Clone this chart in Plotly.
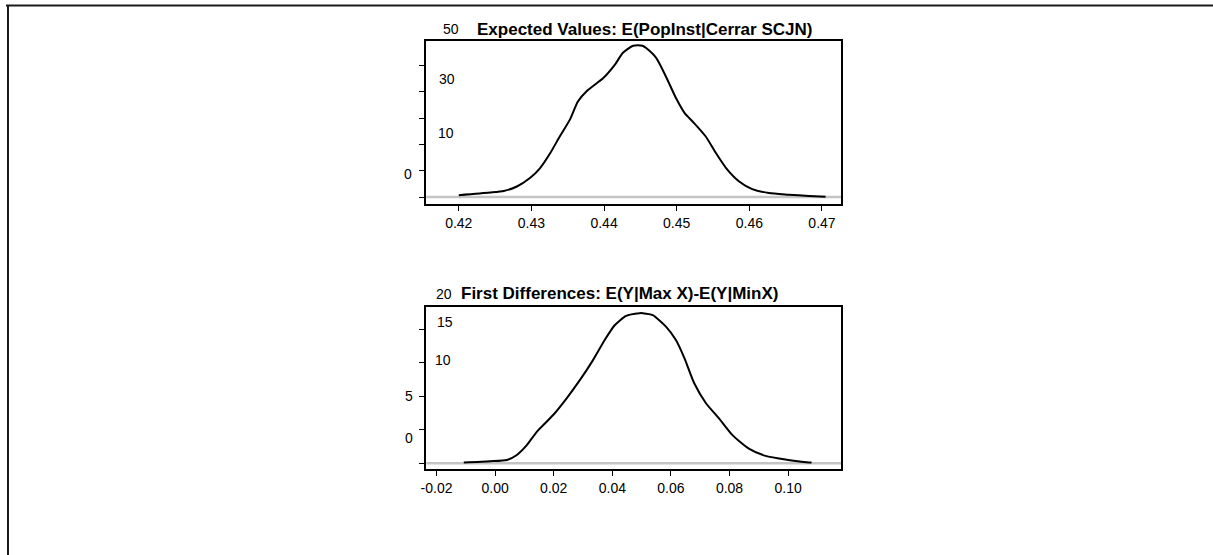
import plotly.graph_objects as go

# Density of simulated expected values
ev_x = [0.4200, 0.4243, 0.4262, 0.4280, 0.4298, 0.4312, 0.4326, 0.4339, 0.4353,
        0.4364, 0.4376, 0.4399, 0.4415, 0.4426, 0.4440, 0.4453, 0.4458, 0.4472,
        0.4485, 0.4499, 0.4511, 0.4524, 0.4540, 0.4554, 0.4568, 0.4586, 0.4604,
        0.4627, 0.4654, 0.4682, 0.4705]
ev_y = [0.7, 1.7, 2.3, 4.0, 7.2, 11.0, 16.7, 23.0, 29.4,
        36.3, 40.2, 45.2, 50.3, 54.8, 57.5, 57.5, 56.6, 52.8,
        45.9, 37.6, 31.9, 28.1, 23.0, 16.7, 11.0, 5.9, 3.0,
        1.5, 0.9, 0.4, 0.1]

# Density of simulated first differences
fd_x = [-0.0107, -0.0017, 0.0040, 0.0074, 0.0108, 0.0142, 0.0198, 0.0244, 0.0289,
        0.0334, 0.0374, 0.0408, 0.0447, 0.0493, 0.0504, 0.0538, 0.0583, 0.0617,
        0.0646, 0.0680, 0.0719, 0.0764, 0.0810, 0.0866, 0.0923, 0.1000, 0.1053,
        0.1080]
fd_y = [0.1, 0.3, 0.5, 1.24, 2.7, 4.7, 7.2, 9.7, 12.4,
        15.4, 18.4, 20.6, 22.0, 22.4, 22.4, 22.1, 20.4, 18.4,
        15.7, 11.9, 9.0, 6.7, 4.2, 2.2, 1.1, 0.5, 0.2,
        0.1]

ev_title = "Expected Values: E(PopInst|Cerrar SCJN)"
fd_title = "First Differences: E(Y|Max X)-E(Y|MinX)"

ev_xticks = [0.42, 0.43, 0.44, 0.45, 0.46, 0.47]
ev_yticks = [0, 10, 20, 30, 40, 50]
ev_ylabels = ["50", "30", "10", "0"]

fd_xticks = [-0.02, 0.00, 0.02, 0.04, 0.06, 0.08, 0.10]
fd_yticks = [0, 5, 10, 15, 20]
fd_ylabels = ["20", "15", "10", "5", "0"]

W, H = 1213, 555
FONT = "Liberation Sans, Arial, sans-serif"

# pixel centres at which the y labels get printed
ev_label_pos = [(447, 29), (443, 79.5), (442, 133), (404, 174)]
fd_label_pos = [(440, 294), (441, 322), (439, 360), (405, 396), (405, 438)]


def px(x):
    return x / W


def py(y):
    return 1 - y / H


fig = go.Figure()

line_style = dict(color="black", width=2, shape="spline", smoothing=0.6)
base_style = dict(color="#c4c4c4", width=2.5)

fig.add_trace(go.Scatter(x=[0.41, 0.48], y=[0, 0], mode="lines", line=base_style,
                         xaxis="x", yaxis="y", hoverinfo="skip"))
fig.add_trace(go.Scatter(x=ev_x, y=ev_y, mode="lines", line=line_style,
                         xaxis="x", yaxis="y"))
fig.add_trace(go.Scatter(x=[-0.03, 0.13], y=[0, 0], mode="lines", line=base_style,
                         xaxis="x2", yaxis="y2", hoverinfo="skip"))
fig.add_trace(go.Scatter(x=fd_x, y=fd_y, mode="lines", line=line_style,
                         xaxis="x2", yaxis="y2"))

axis_common = dict(showgrid=False, zeroline=False, showline=True, linecolor="black",
                   linewidth=1.5, mirror=True, ticks="outside", ticklen=5,
                   tickwidth=1.2, tickcolor="black", tickfont=dict(size=14))

dom_x = [px(422.3), px(839.3)]

fig.update_layout(
    width=W, height=H,
    margin=dict(l=0, r=0, t=0, b=0),
    paper_bgcolor="white", plot_bgcolor="white",
    showlegend=False,
    font=dict(family=FONT, size=14, color="black"),
    xaxis=dict(domain=dom_x, anchor="y", range=[0.41552, 0.47264],
               tickvals=ev_xticks, ticktext=[f"{v:.2f}" for v in ev_xticks],
               **axis_common),
    yaxis=dict(domain=[py(204), py(40.7)], anchor="x", range=[-2.66, 59.4],
               tickvals=ev_yticks, showticklabels=False, **axis_common),
    xaxis2=dict(domain=dom_x, anchor="y2", range=[-0.02353, 0.1181],
                tickvals=fd_xticks, ticktext=[f"{v:.2f}" for v in fd_xticks],
                **axis_common),
    yaxis2=dict(domain=[py(469.3), py(306.7)], anchor="x2", range=[-0.9, 23.37],
                tickvals=fd_yticks, showticklabels=False, **axis_common),
)

annotations = []
for txt, (xp, yp) in zip(ev_ylabels + fd_ylabels, ev_label_pos + fd_label_pos):
    annotations.append(dict(text=txt, x=px(xp), y=py(yp), xref="paper", yref="paper",
                            showarrow=False, xanchor="center", yanchor="middle",
                            font=dict(size=14)))
annotations.append(dict(text=f"<b>{ev_title}</b>", x=px(642), y=py(29),
                        xref="paper", yref="paper", showarrow=False,
                        xanchor="center", yanchor="middle", font=dict(size=17)))
annotations.append(dict(text=f"<b>{fd_title}</b>", x=px(616.7), y=py(293.5),
                        xref="paper", yref="paper", showarrow=False,
                        xanchor="center", yanchor="middle", font=dict(size=17)))
fig.update_layout(annotations=annotations)

# page frame along the top and left edges
fig.add_shape(type="line", xref="paper", yref="paper", x0=0, x1=1.05,
              y0=py(5.5), y1=py(5.5), line=dict(color="#1a1a1a", width=2))
fig.add_shape(type="line", xref="paper", yref="paper", x0=px(2), x1=px(2),
              y0=-0.05, y1=py(5.5), line=dict(color="#1a1a1a", width=2))

fig.write_html("out.html", config={"displayModeBar": False})
